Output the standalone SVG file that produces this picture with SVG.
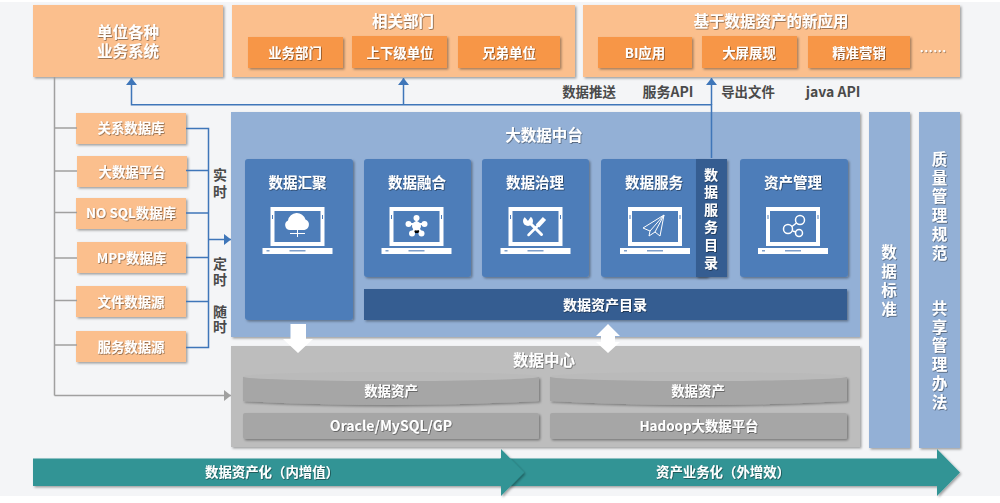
<svg xmlns="http://www.w3.org/2000/svg" width="1000" height="503" viewBox="0 0 1000 503">
<defs>
<filter id="sh" x="-10%" y="-10%" width="125%" height="125%"><feDropShadow dx="1.5" dy="1.5" stdDeviation="1.2" flood-color="#000" flood-opacity=".35"/></filter>
<filter id="ts" x="-30%" y="-10%" width="160%" height="120%"><feDropShadow dx=".7" dy=".7" stdDeviation=".4" flood-color="#000" flood-opacity=".55"/></filter>
<marker id="ab" markerUnits="userSpaceOnUse" markerWidth="8" markerHeight="11" refX="7" refY="5.500" orient="auto"><path d="M0 0L7 5.500L0 11z" fill="#3f76b9"/></marker>
<marker id="ag" markerUnits="userSpaceOnUse" markerWidth="8" markerHeight="11" refX="7" refY="5.500" orient="auto"><path d="M0 0L7 5.500L0 11z" fill="#a0a0a0"/></marker>
<g id="lap">
<rect x="-27" y="0" width="54" height="39" fill="#fff"/>
<rect x="-23" y="4" width="46" height="31" fill="#4d7db9"/>
<rect x="-25.500" y="8" width="1" height="4" fill="#4d7db9"/>
<rect x="24.500" y="8" width="1" height="4" fill="#4d7db9"/>
<rect x="-35" y="41" width="70" height="6" fill="#fff"/>
<rect x="-8" y="43" width="16" height="1.500" fill="#7f9fca"/>
<rect x="-31" y="43" width="3" height="1.500" fill="#7f9fca"/>
</g>
</defs>
<style>
text{font-family:"Noto Sans CJK SC","Liberation Sans",sans-serif;text-anchor:middle;font-weight:700}
.v{writing-mode:vertical-rl;text-orientation:upright}
.w{fill:#fff;filter:url(#ts)}
.d{fill:#4a4a4a}
.s155{font-size:15.500px}.s145{font-size:14.500px}.s14{font-size:14px}.s13{font-size:13.400px}
.lo{fill:#fbbf8d;filter:url(#sh)}
.o{fill:#f79646;filter:url(#sh)}
.lb{fill:#93b0d6;filter:url(#sh)}
.b{fill:#4d7db9;filter:url(#sh)}
.db{fill:#345d91;filter:url(#sh)}
.gr{fill:#a6a6a6;filter:url(#sh)}
.cb{fill:none;stroke:#3f76b9;stroke-width:1.500}
.cg{fill:none;stroke:#a0a0a0;stroke-width:1.500}
.ic{fill:none;stroke:#fff;stroke-width:1.500}
</style>
<rect width="1000" height="503" fill="#fff"/>
<rect y="2" width="1000" height="494" fill="#f4f5f7"/>

<g id="node-biz"><rect class="lo" x="33" y="5" width="190" height="72"/><text class="w s155" x="128" y="38">单位各种</text><text class="w s155" x="128" y="57">业务系统</text></g>

<g id="node-dept"><rect class="lo" x="232" y="5" width="343" height="72"/><text class="w s155" x="403" y="27">相关部门</text>
<rect class="o" x="248" y="37" width="95" height="31"/><text class="w s13" x="295" y="57.500">业务部门</text>
<rect class="o" x="352" y="36" width="95" height="32"/><text class="w s13" x="400" y="57.500">上下级单位</text>
<rect class="o" x="458" y="36" width="102" height="32"/><text class="w s13" x="509" y="57.500">兄弟单位</text></g>

<g id="node-apps"><rect class="lo" x="583" y="5" width="377" height="72"/><text class="w s155" x="771" y="27">基于数据资产的新应用</text>
<rect class="o" x="598" y="37" width="94" height="31"/><text class="w s13" x="645" y="57.500">BI应用</text>
<rect class="o" x="702" y="36" width="95" height="32"/><text class="w s13" x="749" y="57.500">大屏展现</text>
<rect class="o" x="808" y="36" width="102" height="32"/><text class="w s13" x="859" y="57.500">精准营销</text>
<text class="w s13" x="933" y="56">……</text></g>

<g id="labels-out">
<text class="d s13" x="589" y="97">数据推送</text><text class="d s14" x="668" y="97">服务API</text><text class="d s13" x="748" y="97">导出文件</text><text class="d s14" x="833" y="97">java API</text>
</g>

<g id="node-sources">
<g id="src1"><rect class="lo" x="76" y="113" width="110" height="31"/><text class="w s13" x="131" y="133">关系数据库</text></g>
<g id="src2"><rect class="lo" x="77" y="156" width="110" height="31"/><text class="w s13" x="132" y="177">大数据平台</text></g>
<g id="src3"><rect class="lo" x="76" y="198" width="110" height="31"/><text class="w s13" x="131" y="218">NO SQL数据库</text></g>
<g id="src4"><rect class="lo" x="77" y="242" width="109" height="31"/><text class="w s13" x="131.500" y="263">MPP数据库</text></g>
<g id="src5"><rect class="lo" x="76" y="286" width="110" height="31"/><text class="w s13" x="131" y="307">文件数据源</text></g>
<g id="src6"><rect class="lo" x="76" y="331" width="110" height="31"/><text class="w s13" x="131" y="352">服务数据源</text></g>
</g>
<g id="labels-mode">
<text class="d s14 v" x="220" y="185" letter-spacing="3">实时</text>
<text class="d s14 v" x="220" y="273" letter-spacing="2">定时</text>
<text class="d s14 v" x="220" y="320" letter-spacing="1.500">随时</text>
</g>

<g id="node-platform"><rect class="lb" x="231" y="112" width="629" height="225"/><text class="w s155" x="544" y="141">大数据中台</text></g>

<g id="connectors">
<path class="cg" d="M54.500 77V395.500"/>
<path class="cg" d="M54.500 128H77M54.500 171H77M54.500 212.500H77M54.500 258H77M54.500 300.500H77M54.500 345H77"/>
<path class="cg" d="M54.500 395.500H231" marker-end="url(#ag)"/>
<path class="cb" d="M186 128.500H208.500V347.500H186M186 170.500H208.500M186 213H208.500M186 257.500H208.500M186 301.500H208.500"/>
<path class="cb" d="M208.500 239.500H231" marker-end="url(#ab)"/>
<path class="cb" d="M711.500 158V104.750H131.500V78" marker-end="url(#ab)"/>
<path class="cb" d="M403.500 104.750V78" marker-end="url(#ab)"/>
<path class="cb" d="M711.500 104.750V78" marker-end="url(#ab)"/>
</g>

<g id="node-collect"><rect class="b" x="245" y="159" width="108" height="161" rx="3"/><text class="w s145" x="297.500" y="188">数据汇聚</text><use href="#lap" x="297.500" y="207"/>
<path fill="#fff" d="M290 230a5 5 0 0 1 -2-9.500a9 9 0 0 1 17.500-1a5.500 5.500 0 0 1 -1 10.500z"/><path fill="none" stroke="#fff" d="M297.500 229v8M290 233.500h15"/></g>
<g id="node-fusion"><rect class="b" x="364" y="159" width="107" height="118" rx="3"/><text class="w s145" x="417" y="188">数据融合</text><use href="#lap" x="416.500" y="207"/>
<path stroke="#fff" stroke-width="2" d="M416.500 218V226M408 224L425 224M412 233L416.500 226L422 233"/><g fill="#fff"><circle cx="416.500" cy="226" r="4.500"/><circle cx="416.500" cy="218" r="3"/><circle cx="408.500" cy="224" r="3"/><circle cx="424.500" cy="224" r="3"/><circle cx="412" cy="233.500" r="3"/><circle cx="421.500" cy="233.500" r="3"/></g></g>
<g id="node-gov"><rect class="b" x="482" y="159" width="107" height="118" rx="3"/><text class="w s145" x="535" y="188">数据治理</text><use href="#lap" x="535.500" y="207"/>
<circle cx="528" cy="221" r="5" fill="#fff"/><path fill="#4d7db9" d="M522 214L528 221L532 215z"/>
<path fill="none" stroke="#fff" stroke-width="3" stroke-linecap="round" d="M529 222L541.500 234.500"/>
<path fill="none" stroke="#fff" stroke-width="2.500" stroke-linecap="round" d="M528.500 235L538 225.500"/>
<path fill="none" stroke="#fff" stroke-width="4.500" d="M537.500 226L544.500 218.500"/></g>
<g id="node-service"><rect class="b" x="601" y="159" width="107" height="118" rx="3"/><text class="w s145" x="654" y="188">数据服务</text><use href="#lap" x="655" y="207"/>
<path fill="none" stroke="#fff" stroke-width="1" d="M664 215L643 228L650 231L649 236L655 232L660 236zM664 215L650 231M664 215L655 232"/></g>
<g id="node-catalog-s"><rect class="db" x="696" y="159" width="31" height="118"/>
<text class="w s14 v" x="711" y="220" letter-spacing="3.600">数据服务目录</text></g>
<g id="node-asset"><rect class="b" x="740" y="159" width="108" height="118" rx="3"/><text class="w s145" x="793" y="188">资产管理</text><use href="#lap" x="793" y="207"/>
<g class="ic"><circle cx="800" cy="220" r="4.500"/><circle cx="788" cy="229" r="4.500"/><circle cx="799" cy="233" r="3.500"/><path d="M796.500 223L792 226.500M792.500 231L796 232"/></g></g>
<g id="node-catalog"><rect class="db" x="364" y="289" width="483" height="31"/><text class="w s14" x="605" y="310">数据资产目录</text></g>

<g id="node-center"><rect class="gr" x="231" y="346" width="629" height="101" style="fill:#bdbdbd"/><text class="w s155" x="544" y="366">数据中心</text>
<path class="gr" d="M243 377V401Q391 409 539 401V377z"/><ellipse cx="391" cy="376.500" rx="148" ry="4.500" fill="#bababa"/><text class="w s13" x="391" y="396">数据资产</text>
<path class="gr" d="M550 377V401Q698 409 847 401V377z"/><ellipse cx="698.500" cy="376.500" rx="148.500" ry="4.500" fill="#bababa"/><text class="w s13" x="698" y="396">数据资产</text>
<rect class="gr" x="243" y="413" width="296" height="26" rx="2"/><text class="w s14" x="391" y="431">Oracle/MySQL/GP</text>
<rect class="gr" x="550" y="413" width="297" height="26" rx="2"/><text class="w s13" x="699" y="431">Hadoop大数据平台</text></g>

<g id="flow-arrows"><path fill="#fff" d="M290.500 324H306V339H313L298 353L283 339H290.500z"/><path fill="#fff" d="M608 324L620 336H615V342H620L608 353L596 342H601V336H596z"/></g>

<g id="node-standard"><rect class="lb" x="869" y="112" width="41" height="336"/>
<text class="w s155 v" x="889" y="282" letter-spacing="3.500">数据标准</text></g>
<g id="node-rules"><rect class="lb" x="919" y="112" width="41" height="336"/>
<text class="w s155 v" x="939.500" y="207.500" letter-spacing="3.300">质量管理规范</text>
<text class="w s155 v" x="939.500" y="356.500" letter-spacing="3.300">共享管理办法</text></g>

<g id="bar-right"><path fill="#319495" filter="url(#sh)" d="M500 458.500H937V449L960 472.500L937 496V486H500z"/><text class="w s13" x="723" y="477">资产业务化（外增效）</text></g>
<g id="bar-left"><path fill="#319495" filter="url(#sh)" d="M33 458.500H501V449L524 472.500L501 496V486H33z"/><text class="w s13" x="272" y="477">数据资产化（内增值）</text></g>
</svg>
